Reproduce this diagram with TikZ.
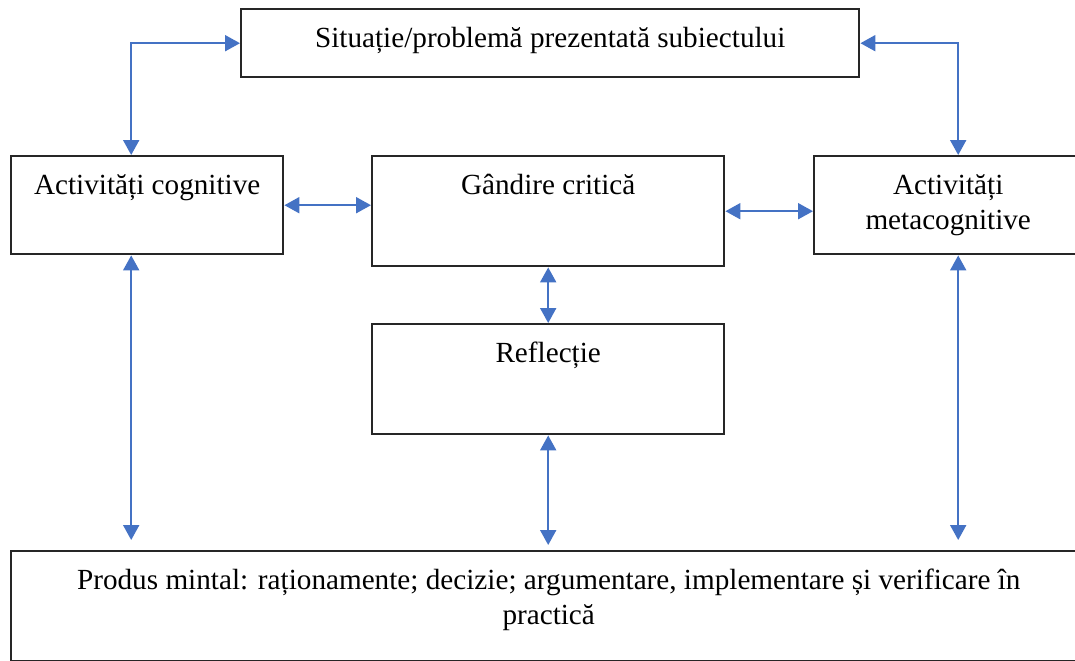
\documentclass[tikz,border=0pt]{standalone}
\usepackage{fontspec}
\setmainfont{Liberation Serif}
\usetikzlibrary{arrows.meta}
\definecolor{linkblue}{HTML}{4472C4}

\begin{document}
\begin{tikzpicture}[x=0.5pt, y=-0.5pt,
  box/.style={draw=black!85, line width=1.2pt, anchor=north west,
    inner xsep=0pt, inner ysep=0pt, align=flush center, text height=19pt,
    font=\fontsize{14.6}{17.8}\selectfont},
  link/.style={{Triangle[length=7.5pt,width=8pt]}-{Triangle[length=7.5pt,width=8pt]},
    draw=linkblue, line width=1pt}]
\useasboundingbox (0,0) rectangle (1075,660);
\clip (0,0) rectangle (1075,660);
%situation
\node[box, text width=309pt, text depth=15pt] (sit) at (240,8)
     {Situație/problemă prezentată subiectului};
%middle row
\node[box, text width=136pt, text depth=30pt] (cog) at (10,155)
     {Activități cognitive};
\node[box, text width=176pt, text depth=36pt] (gand) at (371,155)
     {Gândire critică};
\node[box, text width=134pt, text depth=30pt] (meta) at (813,155)
     {Activități\\ metacognitive};
%reflection
\node[box, text width=176pt, text depth=36pt] (refl) at (371,323)
     {Reflecție};
%product
\node[box, text width=537.5pt, text depth=36pt] (prod) at (10,550)
     {Produs mintal: raționamente; decizie; argumentare, implementare și verificare în\\ practică};
%links to the situation
\draw[link] (sit.west) -| ([xshift=-8pt]cog.north);
\draw[link] (sit.east) -| ([xshift=5pt]meta.north);
%links in the middle row
\draw[link] (cog.east) -- (cog.east -| gand.west);
\draw[link] (gand.east) -- (gand.east -| meta.west);
\draw[link] (gand.south) -- (refl.north);
%links to the product
\draw[link, shorten >=5pt] ([xshift=-8pt]cog.south) -- ([xshift=-8pt]cog.south |- prod.north);
\draw[link, shorten >=2.5pt] (refl.south) -- (refl.south |- prod.north);
\draw[link, shorten >=5pt] ([xshift=5pt]meta.south) -- ([xshift=5pt]meta.south |- prod.north);
\end{tikzpicture}
\end{document}
